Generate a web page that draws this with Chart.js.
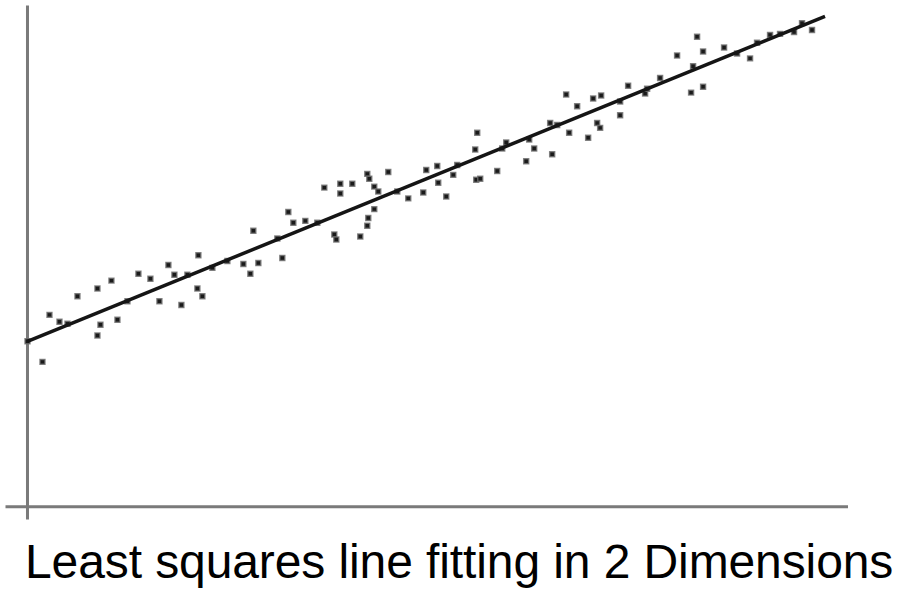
<!DOCTYPE html>
<html>
<head>
<meta charset="utf-8">
<script src="https://cdn.jsdelivr.net/npm/chart.js@4/dist/chart.umd.min.js"></script>
<style>
  body { margin: 0; background: #fff; }
  #wrap { position: relative; width: 898px; height: 589px; overflow: hidden; }
  #chart { position: absolute; left: 0; top: 0; }
  #caption {
    position: absolute; left: 25px; top: 538px;
    font-family: "Liberation Sans", Arial, sans-serif;
    font-size: 48px; line-height: 48px; color: #000; white-space: nowrap;
    letter-spacing: -0.1px;
  }
</style>
</head>
<body>
<div id="wrap">
  <canvas id="chart" width="898" height="525"></canvas>
  <div id="caption">Least squares line fitting in 2 Dimensions</div>
</div>
<script>
// sample points
const pointsX = [0, 1.5, 2.2, 3.2, 5.0, 7.0, 7.3, 7.0, 8.4, 9.0, 11.1, 12.3, 13.2, 14.1, 14.7, 15.4,
  17.1, 17.0, 17.5, 18.5, 21.6, 22.3, 22.6, 23.1, 25.5, 26.1, 26.6, 27.8, 29.7, 31.3, 32.5, 31.3,
  30.7, 30.9, 33.3, 34.0, 34.2, 34.7, 35.1, 34.7, 34.1, 34.0, 36.1, 38.1, 39.6, 39.9, 41.0, 41.1,
  41.9, 42.6, 45.0, 44.8, 44.9, 45.3, 47.0, 47.9, 49.9, 50.2, 50.7, 52.5, 52.3, 53.9, 54.2, 55.0,
  56.1, 56.6, 57.4, 57.0, 57.3, 59.3, 59.3, 60.1, 61.8, 63.3, 65.0, 66.4, 67.6, 66.6, 67.0, 67.6,
  69.7, 72.3, 74.3, 75.3, 76.7, 77.5, 78.5,
  4.0, 10.0, 16.0, 20.0, 25.0, 29.0, 37.0, 43.0, 47.5, 53.0, 62.0, 71.0, 73.0];
const pointsY = [16.9, 14.8, 19.6, 18.9, 21.5, 22.3, 18.6, 17.5, 23.1, 19.1, 23.8, 23.3, 21.0, 24.7, 23.7, 20.6,
  25.7, 22.3, 21.5, 24.4, 24.8, 23.8, 28.2, 24.9, 25.4, 30.1, 29.0, 29.2, 32.6, 33.0, 33.0, 32.0,
  27.8, 27.3, 27.6, 34.0, 33.5, 32.7, 32.2, 30.4, 29.5, 28.7, 34.2, 31.5, 32.1, 34.4, 34.8, 33.1,
  31.7, 33.9, 38.2, 36.5, 33.4, 33.5, 34.3, 37.2, 35.3, 37.5, 36.6, 36.0, 39.2, 42.1, 38.2, 40.9,
  37.7, 41.7, 42.0, 39.2, 38.7, 41.4, 40.0, 43.0, 42.2, 43.8, 46.1, 42.3, 42.9, 45.0, 48.0, 46.5,
  46.9, 45.8, 48.2, 48.3, 48.5, 49.4, 48.7,
  18.7, 21.0, 23.7, 25.1, 27.4, 29.0, 32.2, 34.9, 36.6, 39.0, 42.7, 46.3, 47.4];

// fitted line end points
const fitX = [0, 79.8];
const fitY = [16.9, 50.1];

// axis extents
const xRange = [-2.2, 82.1];
const yRange = [-1.3, 51.2];

const scatterData = pointsX.map((x, i) => ({ x, y: pointsY[i] }));
const fitData = fitX.map((x, i) => ({ x, y: fitY[i] }));

// draws the two axes through the origin
const originAxes = {
  id: 'originAxes',
  beforeDatasetsDraw(chart) {
    const { ctx, chartArea, scales } = chart;
    const x0 = scales.x.getPixelForValue(0);
    const y0 = scales.y.getPixelForValue(0);
    ctx.save();
    ctx.strokeStyle = '#7a7a7a';
    ctx.lineWidth = 3;
    ctx.beginPath();
    ctx.moveTo(x0, chartArea.top);
    ctx.lineTo(x0, chartArea.bottom);
    ctx.moveTo(chartArea.left, y0);
    ctx.lineTo(chartArea.right, y0);
    ctx.stroke();
    ctx.restore();
  }
};

const ctx = document.getElementById('chart').getContext('2d');
new Chart(ctx, {
  type: 'scatter',
  data: {
    datasets: [
      {
        type: 'line',
        data: fitData,
        borderColor: '#151515',
        borderWidth: 3.5,
        pointRadius: 0,
        fill: false,
        order: 1,
      },
      {
        data: scatterData,
        pointStyle: 'rect',
        pointRadius: 3.5,
        backgroundColor: '#1a1a1a',
        borderColor: 'rgba(110,110,110,0.8)',
        borderWidth: 1.5,
        order: 2,
      },
    ],
  },
  options: {
    responsive: false,
    animation: false,
    layout: { padding: { left: 5, right: 50, top: 0, bottom: 0 } },
    plugins: {
      legend: { display: false },
      tooltip: { enabled: false },
    },
    scales: {
      x: { type: 'linear', min: xRange[0], max: xRange[1], display: false },
      y: { type: 'linear', min: yRange[0], max: yRange[1], display: false },
    },
  },
  plugins: [originAxes],
});
</script>
</body>
</html>
